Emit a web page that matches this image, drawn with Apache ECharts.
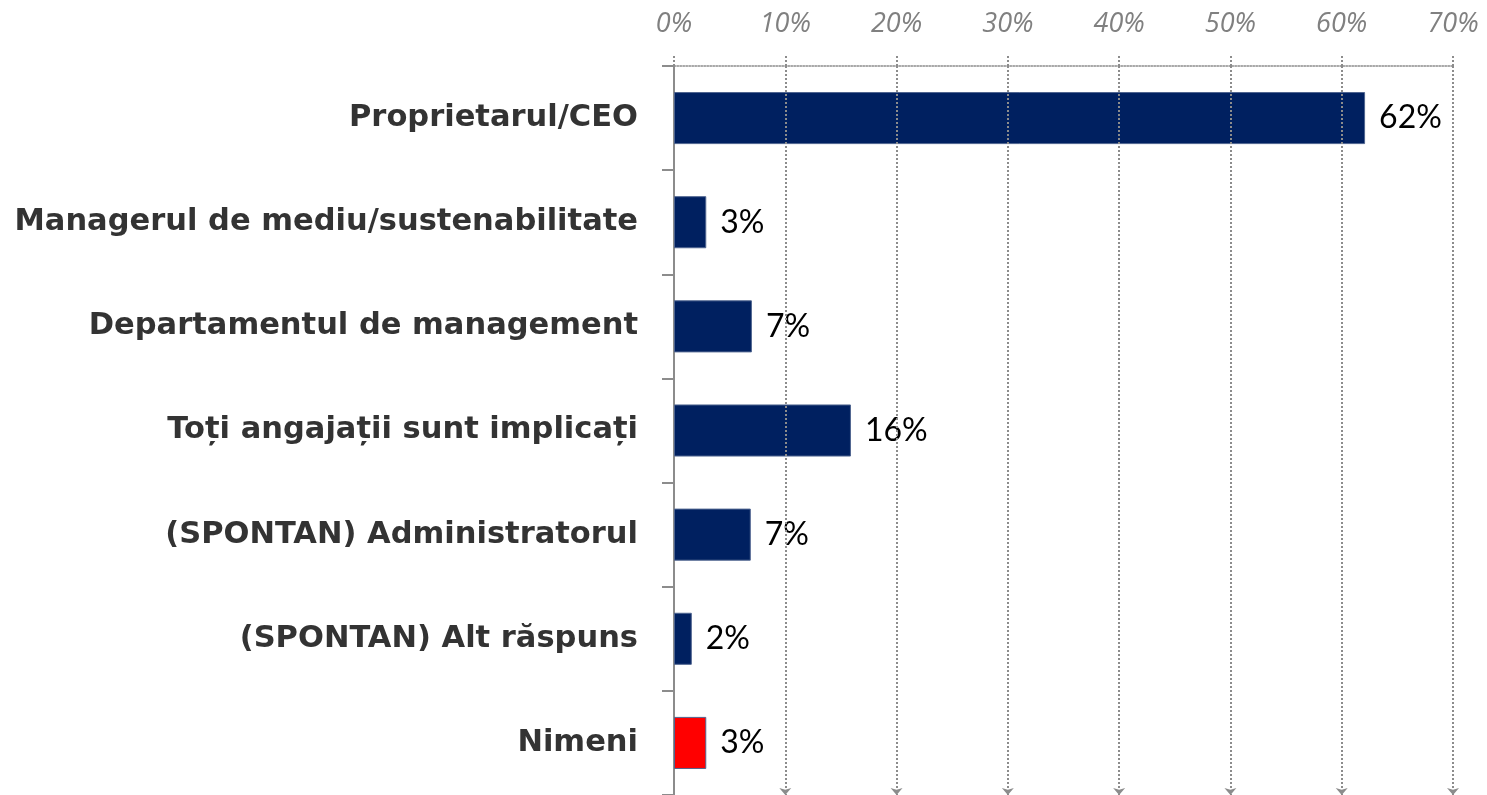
<!DOCTYPE html>
<html>
<head>
<meta charset="utf-8">
<script src="https://cdn.jsdelivr.net/npm/echarts@6/dist/echarts.min.js"></script>
<style>
  html, body { margin: 0; padding: 0; background: #fff; }
  #main { width: 1487px; height: 795px; }
</style>
</head>
<body>
<div id="main"></div>
<script>
var categories = [
    'Proprietarul/CEO',
    'Managerul de mediu/sustenabilitate',
    'Departamentul de management',
    'Toți angajații sunt implicați',
    '(SPONTAN) Administratorul',
    '(SPONTAN) Alt răspuns',
    'Nimeni'
];
var values = [62.1, 2.9, 7.0, 15.9, 6.9, 1.6, 2.9];
var barColors = ['#002060', '#002060', '#002060', '#002060', '#002060', '#002060', '#ff0000'];
var ticks = [10, 20, 30, 40, 50, 60, 70];

var chart = echarts.init(document.getElementById('main'));
var option = {
    animation: false,
    grid: { left: 674, right: 34, top: 66, bottom: 0 },
    xAxis: {
        type: 'value',
        position: 'top',
        min: 0,
        max: 70,
        interval: 10,
        axisLine: { show: true, lineStyle: { color: '#8c8c8c', type: 'dotted', width: 1.5 } },
        axisTick: { show: true, length: 10, lineStyle: { color: '#8c8c8c', type: 'dotted', width: 2 } },
        splitLine: { show: false },
        axisLabel: {
            formatter: '{value}%',
            color: '#808080',
            fontStyle: 'italic',
            fontFamily: 'Open Sans',
            fontSize: 27,
            margin: 28
        }
    },
    yAxis: {
        type: 'category',
        inverse: true,
        data: categories,
        axisLine: { lineStyle: { color: '#8c8c8c', width: 2 } },
        axisTick: { show: true, length: 12, lineStyle: { color: '#8c8c8c', width: 2 } },
        axisLabel: {
            color: '#333333',
            fontWeight: 'bold',
            fontFamily: 'DejaVu Sans',
            fontSize: 30.5,
            margin: 36
        }
    },
    series: [{
        type: 'bar',
        barWidth: '50%',
        data: values.map(function (v, i) {
            return { value: v, itemStyle: { color: barColors[i] } };
        }),
        itemStyle: { borderColor: '#4f6590', borderWidth: 1 },
        label: {
            show: true,
            position: 'right',
            distance: 14,
            color: '#000',
            fontFamily: 'Lato',
            fontSize: 32,
            formatter: function (p) { return Math.round(p.value) + '%'; }
        },
        markLine: {
            silent: true,
            symbol: ['none', 'arrow'],
            symbolSize: [9, 7],
            label: { show: false },
            lineStyle: { color: '#8c8c8c', type: 'dotted', width: 2 },
            data: ticks.map(function (t) { return { xAxis: t }; })
        }
    }]
};
chart.setOption(option);
window.addEventListener('resize', () => chart.resize());
</script>
</body>
</html>
